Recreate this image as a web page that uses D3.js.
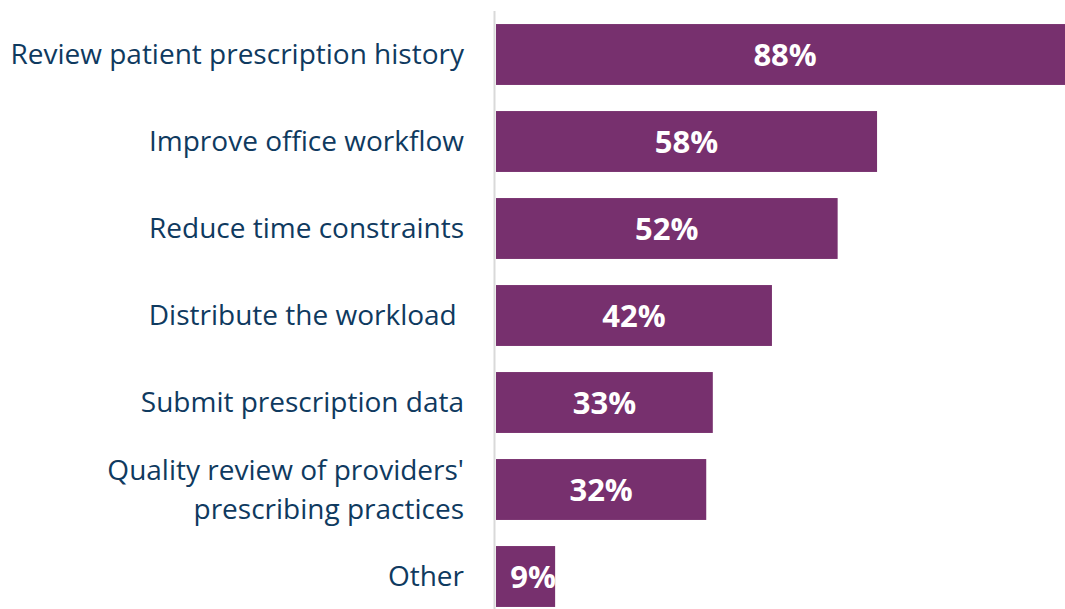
<!DOCTYPE html>
<html>
<head>
<meta charset="utf-8">
<script src="https://cdn.jsdelivr.net/npm/d3@7"></script>
<style>
body { margin: 0; background: #fff; }
.cat { font-family: "Open Sans", sans-serif; font-size: 28px; fill: #0f3a5f; white-space: pre; }
.val { font-family: "Open Sans", sans-serif; font-size: 31px; font-weight: bold; fill: #fff; }
</style>
</head>
<body>
<svg id="myGraph" width="1065" height="609"></svg>
<script>
var categories = [
  ["Review patient prescription history"],
  ["Improve office workflow"],
  ["Reduce time constraints"],
  ["Distribute the workload "],
  ["Submit prescription data"],
  ["Quality review of providers'", "prescribing practices"],
  ["Other"]
];
var values = [88, 58, 52, 42, 33, 32, 9];
var valueLabels = ["88%", "58%", "52%", "42%", "33%", "32%", "9%"];

var svg = d3.select("#myGraph");
var axisX = 496;

var xScale = d3.scaleLinear()
  .domain([0, 100])
  .range([0, 657]);

var yScale = d3.scaleBand()
  .domain(d3.range(values.length))
  .range([11, 620])
  .paddingInner(0.3)
  .paddingOuter(0.15);

// bars
svg.selectAll("rect.bar")
  .data(values)
  .enter()
  .append("rect")
  .attr("class", "bar")
  .attr("x", axisX)
  .attr("y", function(d, i){ return yScale(i); })
  .attr("width", function(d){ return xScale(d); })
  .attr("height", yScale.bandwidth())
  .attr("fill", "#77306e");

// value labels (clipped to their bar)
var defs = svg.append("defs");
values.forEach(function(d, i){
  defs.append("clipPath").attr("id", "clip" + i)
    .append("rect")
    .attr("x", axisX)
    .attr("y", yScale(i))
    .attr("width", xScale(d))
    .attr("height", yScale.bandwidth());
});

svg.selectAll("text.val")
  .data(values)
  .enter()
  .append("text")
  .attr("class", "val")
  .attr("clip-path", function(d, i){ return "url(#clip" + i + ")"; })
  .attr("x", function(d){ return axisX + Math.max(xScale(d) / 2, 37); })
  .attr("y", function(d, i){ return yScale(i) + yScale.bandwidth() / 2; })
  .attr("dy", "0.36em")
  .attr("text-anchor", "middle")
  .text(function(d, i){ return valueLabels[i]; });

// category labels
var lineH = 39;
svg.selectAll("text.cat")
  .data(categories)
  .enter()
  .append("text")
  .attr("class", "cat")
  .attr("text-anchor", "end")
  .each(function(lines, i){
    var cy = yScale(i) + yScale.bandwidth() / 2;
    var top = cy - (lines.length - 1) * lineH / 2;
    var t = d3.select(this);
    lines.forEach(function(s, j){
      t.append("tspan")
        .attr("x", 464)
        .attr("y", top + j * lineH)
        .attr("dy", "0.35em")
        .text(s);
    });
  });

// vertical axis line
svg.append("line")
  .attr("x1", axisX - 1.5).attr("x2", axisX - 1.5)
  .attr("y1", 11).attr("y2", 609)
  .attr("stroke", "#d9d9d9")
  .attr("stroke-width", 2);
</script>
</body>
</html>
